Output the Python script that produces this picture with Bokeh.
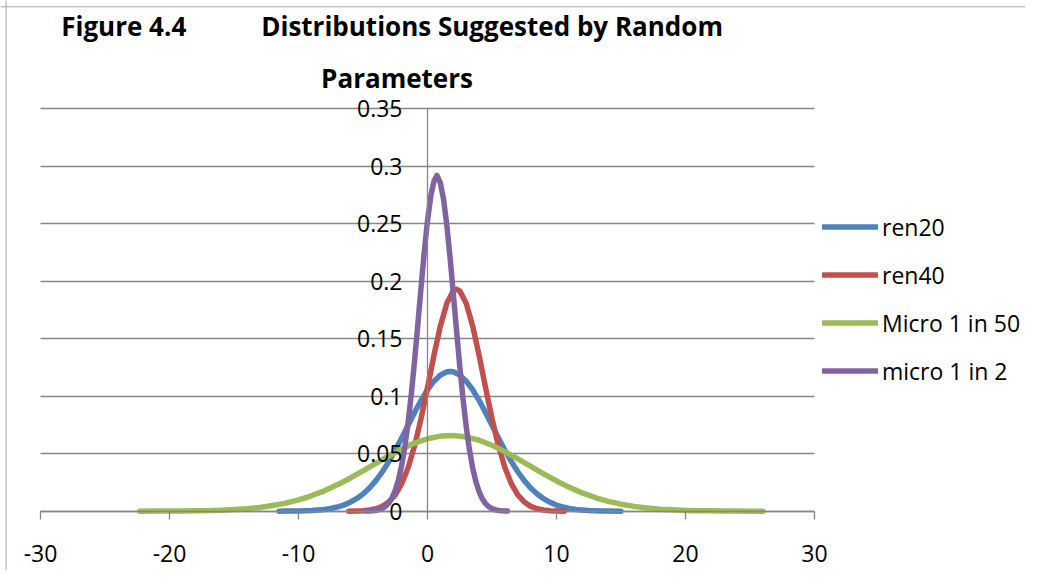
from bokeh.plotting import figure
from bokeh.models import FixedTicker, Range1d, Label, Legend, Span
from bokeh.embed import file_html
from bokeh.resources import INLINE

# ---- data ----
ren20_x = [-11.5, -11, -10.5, -10, -9.5, -9, -8.5, -8, -7.5, -7, -6.5, -6, -5.5, -5, -4.5, -4,
           -3.5, -3, -2.5, -2, -1.5, -1, -0.5, 0, 0.5, 1, 1.5, 1.75, 2, 2.5, 3, 3.5, 4, 4.5, 5,
           5.5, 6, 6.5, 7, 7.5, 8, 8.5, 9, 9.5, 10, 10.5, 11, 11.5, 12, 12.5, 13, 13.5, 14, 15]
ren20_y = [0.0000, 0.0001, 0.0001, 0.0002, 0.0004, 0.0006, 0.0010, 0.0015, 0.0024, 0.0036, 0.0053,
           0.0077, 0.0109, 0.0150, 0.0202, 0.0266, 0.0343, 0.0431, 0.0530, 0.0637, 0.0748, 0.0859,
           0.0963, 0.1056, 0.1131, 0.1184, 0.1212, 0.1215, 0.1212, 0.1184, 0.1131, 0.1056, 0.0963,
           0.0859, 0.0748, 0.0637, 0.0530, 0.0431, 0.0343, 0.0266, 0.0202, 0.0150, 0.0109, 0.0077,
           0.0053, 0.0036, 0.0024, 0.0015, 0.0010, 0.0006, 0.0004, 0.0002, 0.0001, 0.0000]

ren40_x = [-6.1, -5.5, -5, -4.5, -4, -3.5, -3, -2.5, -2, -1.5, -1, -0.5, 0, 0.5, 1, 1.5, 2, 2.25,
           2.5, 3, 3.5, 4, 4.5, 5, 5.5, 6, 6.5, 7, 7.5, 8, 8.5, 9, 9.5, 10, 10.6]
ren40_y = [0.0000, 0.0002, 0.0004, 0.0010, 0.0021, 0.0042, 0.0080, 0.0142, 0.0239, 0.0380, 0.0569,
           0.0805, 0.1075, 0.1355, 0.1611, 0.1809, 0.1916, 0.1930, 0.1916, 0.1809, 0.1611, 0.1355,
           0.1075, 0.0805, 0.0569, 0.0380, 0.0239, 0.0142, 0.0080, 0.0042, 0.0021, 0.0010, 0.0004,
           0.0002, 0.0000]

micro50_x = [-22.3, -21, -20, -19, -18, -17, -16, -15, -14, -13, -12, -11, -10, -9, -8, -7, -6, -5,
             -4, -3, -2, -1, 0, 1, 2, 3, 4, 5, 6, 7, 8, 9, 10, 11, 12, 13, 14, 15, 16, 17, 18, 19,
             20, 21, 22, 23, 24, 25, 26]
micro50_y = [0.0000, 0.0001, 0.0001, 0.0002, 0.0003, 0.0005, 0.0009, 0.0014, 0.0022, 0.0033, 0.0049,
             0.0070, 0.0098, 0.0134, 0.0177, 0.0229, 0.0287, 0.0350, 0.0416, 0.0481, 0.0541, 0.0592,
             0.0630, 0.0653, 0.0659, 0.0646, 0.0617, 0.0573, 0.0518, 0.0455, 0.0390, 0.0325, 0.0263,
             0.0207, 0.0159, 0.0119, 0.0086, 0.0061, 0.0042, 0.0028, 0.0018, 0.0012, 0.0007, 0.0004,
             0.0003, 0.0001, 0.0001, 0.0000, 0.0000]

micro2_x = [-4.75, -4.5, -4.25, -4, -3.75, -3.5, -3.25, -3, -2.75, -2.5, -2.25, -2, -1.75, -1.5,
            -1.25, -1, -0.75, -0.5, -0.25, 0, 0.25, 0.5, 0.73, 1, 1.25, 1.5, 1.75, 2, 2.25, 2.5,
            2.75, 3, 3.25, 3.5, 3.75, 4, 4.25, 4.5, 4.75, 5, 5.25, 5.5, 5.75, 6.2]
micro2_y = [0.0001, 0.0002, 0.0004, 0.0008, 0.0014, 0.0025, 0.0043, 0.0072, 0.0116, 0.0181, 0.0274,
            0.0400, 0.0565, 0.0774, 0.1024, 0.1311, 0.1624, 0.1945, 0.2253, 0.2525, 0.2737, 0.2869,
            0.2920, 0.2854, 0.2708, 0.2485, 0.2206, 0.1894, 0.1573, 0.1263, 0.0981, 0.0737, 0.0536,
            0.0377, 0.0257, 0.0169, 0.0108, 0.0066, 0.0039, 0.0023, 0.0013, 0.0007, 0.0004, 0.0001]

series_names = ["ren20", "ren40", "Micro 1 in 50", "micro 1 in 2"]
series_colors = ["#4F81BD", "#C0504D", "#9BBB59", "#8064A2"]

x_ticks = [-30, -20, -10, 0, 10, 20, 30]
x_tick_labels = ["-30", "-20", "-10", "0", "10", "20", "30"]
y_ticks = [0, 0.05, 0.1, 0.15, 0.2, 0.25, 0.3, 0.35]
y_tick_labels = ["0", "0.05", "0.1", "0.15", "0.2", "0.25", "0.3", "0.35"]

title_left = "Figure 4.4"
title_line1 = "Distributions Suggested by Random"
title_line2 = "Parameters"

FONT = "Open Sans"
GRAY = "#868686"
W, H = 1025, 570
PX_X = 12.9      # pixels per x unit
PX_Y = 1150.0    # pixels per y unit
X0 = -30 - 40 / PX_X
Y0 = -(H - 510.7) / PX_Y

p = figure(width=W, height=H,
           min_border_left=0, min_border_right=0, min_border_top=0, min_border_bottom=0,
           x_range=Range1d(X0, X0 + W / PX_X), y_range=Range1d(Y0, Y0 + H / PX_Y),
           output_backend="svg", toolbar_location=None)

p.outline_line_color = None
p.background_fill_color = "white"
p.border_fill_color = "white"

# chart-area border (left and top edges visible in the reference)
p.add_layout(Span(location=5.6, location_units="screen", dimension="height",
                  line_color="#A6A6A6", line_width=1))
p.add_layout(Span(location=H - 6.3, location_units="screen", dimension="width",
                  line_color="#A6A6A6", line_width=1))

p.xgrid.visible = False
yg = p.ygrid[0]
yg.grid_line_color = GRAY
yg.grid_line_width = 1.3
yg.ticker = FixedTicker(ticks=y_ticks)
yg.bounds = (0, 0.35)
if "cross_bounds" in yg.properties():
    yg.cross_bounds = (-30, 30)

xa = p.xaxis[0]
xa.fixed_location = 0
xa.bounds = (-30, 30)
xa.ticker = FixedTicker(ticks=x_ticks)
xa.major_label_overrides = dict(zip(x_ticks, x_tick_labels))
xa.axis_line_color = GRAY
xa.axis_line_width = 1.3
xa.major_tick_line_color = GRAY
xa.major_tick_line_width = 1.3
xa.major_tick_out = 8
xa.major_tick_in = 0
xa.minor_tick_line_color = None
xa.major_label_standoff = 26
xa.major_label_text_font = FONT
xa.major_label_text_font_size = "23px"
xa.major_label_text_color = "black"

ya = p.yaxis[0]
ya.fixed_location = 0
ya.bounds = (0, 0.35)
ya.ticker = FixedTicker(ticks=y_ticks)
ya.major_label_overrides = dict(zip(y_ticks, y_tick_labels))
ya.axis_line_color = GRAY
ya.axis_line_width = 1.3
ya.major_tick_line_color = None
ya.major_tick_out = 0
ya.major_tick_in = 0
ya.minor_tick_line_color = None
ya.major_label_standoff = 25
ya.major_label_text_font = FONT
ya.major_label_text_font_size = "23px"
ya.major_label_text_color = "black"

xs = [ren20_x, ren40_x, micro50_x, micro2_x]
ys = [ren20_y, ren40_y, micro50_y, micro2_y]
items = []
for name, color, x, y in zip(series_names, series_colors, xs, ys):
    r = p.line(x, y, line_color=color, line_width=5.5, line_cap="round", line_join="round")
    items.append((name, [r]))

legend = Legend(items=items, location=(822, 183.5), orientation="vertical",
                glyph_width=56, glyph_height=27, label_height=27, label_standoff=4,
                spacing=16, padding=0, margin=0,
                border_line_color=None, background_fill_alpha=0,
                label_text_font=FONT, label_text_font_size="23px", label_text_color="black")
p.add_layout(legend, "center")

for txt, x, y, align in [(title_left, 60.7, 544.5, "left"),
                         (title_line1, 260.7, 544.5, "left"),
                         (title_line2, 396.5, 492.5, "center")]:
    p.add_layout(Label(x=x, y=y, x_units="screen", y_units="screen", text=txt,
                       text_font=FONT, text_font_style="bold", text_font_size="26px",
                       text_color="black", text_align=align, text_baseline="alphabetic"))

open("out.html", "w").write(file_html(p, INLINE))
